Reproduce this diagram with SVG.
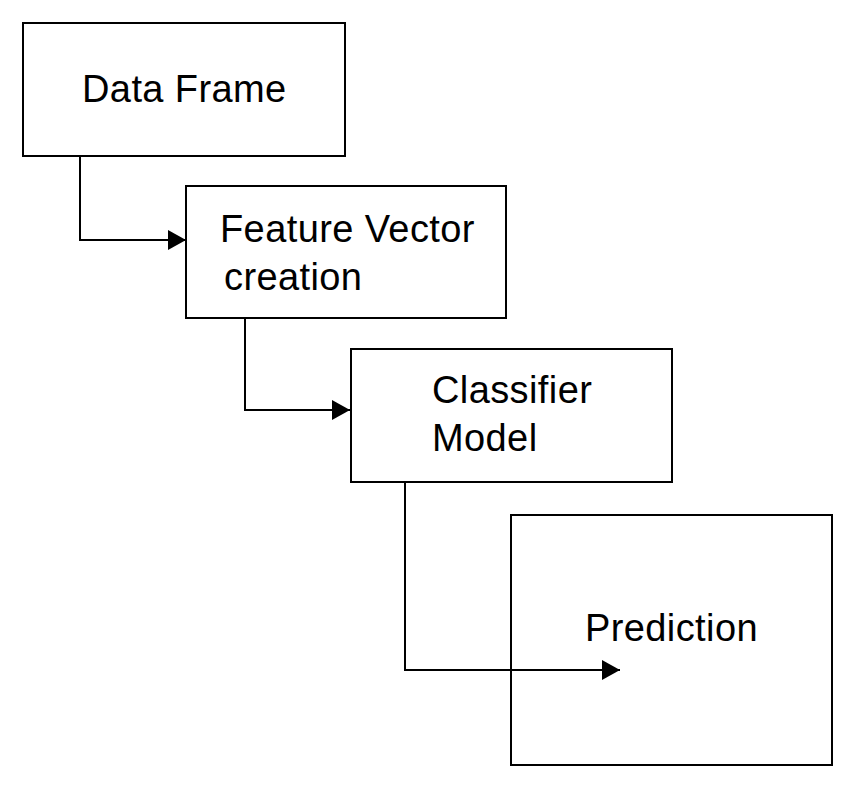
<svg xmlns="http://www.w3.org/2000/svg" width="856" height="789" viewBox="0 0 856 789">
<style>
.box{fill:#fff;stroke:#000;stroke-width:2}
.lbl{font-family:"Liberation Sans",Arial,sans-serif;font-size:38px;letter-spacing:0.4px;fill:#000}
.conn{fill:none;stroke:#000;stroke-width:2}
</style>
<defs>
<marker id="arr" markerUnits="userSpaceOnUse" markerWidth="20" markerHeight="22" refX="18" refY="10" orient="auto">
<path d="M0,0 L18,10 L0,20 Z" fill="#000"/>
</marker>
</defs>
<rect width="856" height="789" fill="#fff"/>
<g id="n1"><rect class="box" x="23" y="23" width="322" height="133"/><text class="lbl" x="82" y="102">Data Frame</text></g>
<g id="n2"><rect class="box" x="186" y="186" width="320" height="132"/><text class="lbl" x="220" y="242">Feature Vector</text><text class="lbl" x="224" y="290">creation</text></g>
<g id="n3"><rect class="box" x="351" y="349" width="321" height="133"/><text class="lbl" x="432" y="403">Classifier</text><text class="lbl" x="432" y="451">Model</text></g>
<g id="n4"><rect class="box" x="511" y="515" width="321" height="250"/><text class="lbl" x="585" y="641">Prediction</text></g>
<g id="connectors">
<path class="conn" d="M80,156 V240 H186" marker-end="url(#arr)"/>
<path class="conn" d="M245,318 V410 H350" marker-end="url(#arr)"/>
<path class="conn" d="M405,482 V670 H620" marker-end="url(#arr)"/>
</g>
</svg>
